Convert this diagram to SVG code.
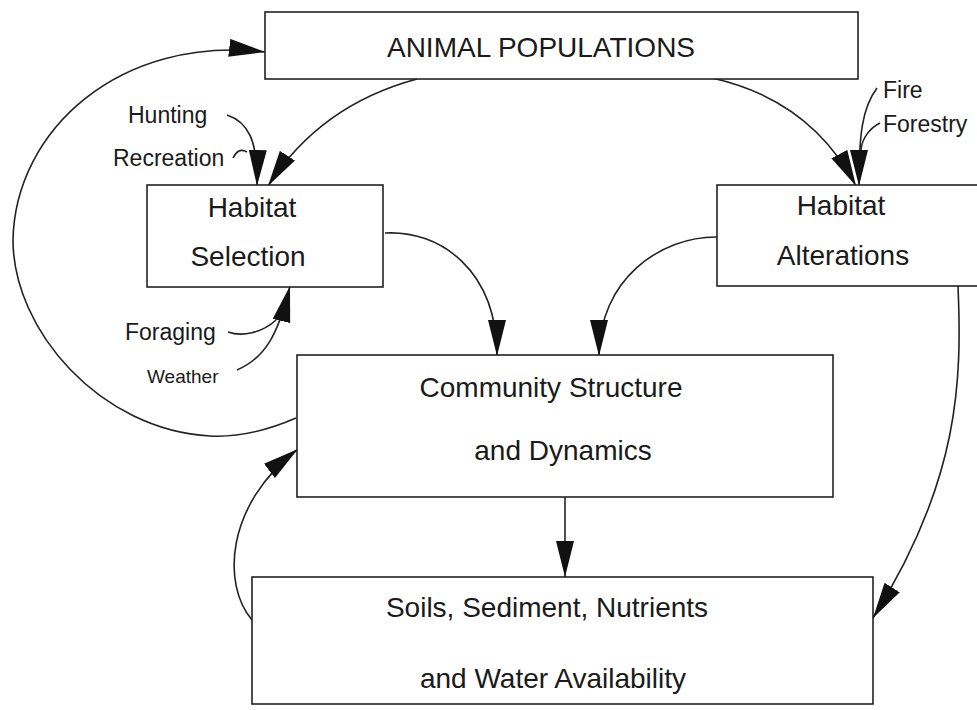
<svg xmlns="http://www.w3.org/2000/svg" width="977" height="710" viewBox="0 0 977 710">
<style>
.box{fill:#fff;stroke:#222;stroke-width:1.6}
.big{font-family:"Liberation Sans",Arial,sans-serif;font-size:28px;fill:#1a1a1a;text-anchor:middle}
.lbl{font-family:"Liberation Sans",Arial,sans-serif;font-size:23px;fill:#1a1a1a}
.ln{fill:none;stroke:#222;stroke-width:1.6}
.arr{marker-end:url(#ah)}
</style>
<defs>
<marker id="ah" viewBox="0 0 36 18" refX="36" refY="9" markerWidth="36" markerHeight="18" markerUnits="userSpaceOnUse" orient="auto">
<path d="M0,0 L36,9 L0,18 z" fill="#111"/>
</marker>
</defs>
<rect width="977" height="710" fill="#fff"/>

<g id="connectors">
<path class="ln arr" d="M296,418 Q250,438 210,436 C100,430 13,330 13,240 C15,130 120,35 265,52"/>
<path class="ln arr" d="M417,79 Q320,105 268,186"/>
<path class="ln arr" d="M712,78 Q811,100 856,186"/>
<path class="ln arr" d="M227,115 C248,122 258,140 257,186"/>
<path class="ln" d="M233,158 C236,152 240,148 247,152"/>
<path class="ln arr" d="M877,88 C862,108 859,135 859,186"/>
<path class="ln" d="M880,123 C870,128 862,138 861,150"/>
<path class="ln arr" d="M385,233 C440,230 497,270 497,356"/>
<path class="ln arr" d="M718,237 C660,236 599,280 599,356"/>
<path class="ln" d="M228,332 C242,337 262,333 276,320"/>
<path class="ln arr" d="M237,370 C265,358 278,335 290,286"/>
<path class="ln arr" d="M565,497 L565,577"/>
<path class="ln arr" d="M958,286 C962,380 960,480 873,618"/>
<path class="ln arr" d="M252,620 C222,585 225,505 298,449"/>
</g>

<g id="animal-populations">
<rect class="box" x="265" y="12" width="593" height="67"/>
<text class="big" x="541" y="57">ANIMAL POPULATIONS</text>
</g>

<g id="habitat-selection">
<rect class="box" x="147" y="185" width="236" height="102"/>
<text class="big" x="252" y="217">Habitat</text>
<text class="big" x="248" y="266">Selection</text>
</g>

<g id="habitat-alterations">
<rect class="box" x="717" y="185" width="290" height="101"/>
<text class="big" x="841" y="215">Habitat</text>
<text class="big" x="843" y="265">Alterations</text>
</g>

<g id="community-structure">
<rect class="box" x="297" y="355" width="536" height="142"/>
<text class="big" x="551" y="397">Community Structure</text>
<text class="big" x="563" y="460">and Dynamics</text>
</g>

<g id="soils">
<rect class="box" x="252" y="577" width="621" height="127"/>
<text class="big" x="547" y="617">Soils, Sediment, Nutrients</text>
<text class="big" x="553" y="688">and Water Availability</text>
</g>

<g id="labels">
<text class="lbl" x="128" y="123">Hunting</text>
<text class="lbl" x="113" y="166">Recreation</text>
<text class="lbl" x="125" y="340">Foraging</text>
<text class="lbl" x="147" y="383" style="font-size:19px">Weather</text>
<text class="lbl" x="883" y="98">Fire</text>
<text class="lbl" x="883" y="132">Forestry</text>
</g>
</svg>
